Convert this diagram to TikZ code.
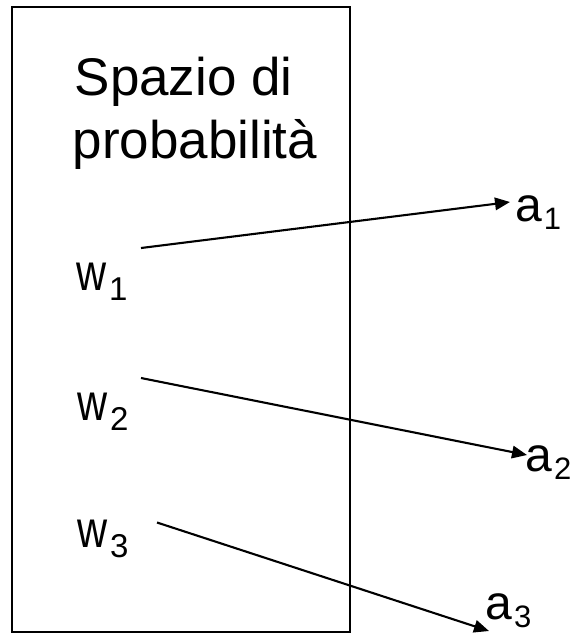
\documentclass[tikz,border=0pt]{standalone}
\usepackage{fontspec}
\setmainfont{Liberation Sans}
\usetikzlibrary{arrows.meta}
\tikzset{
  frame/.style={line width=2.1pt},
  map/.style={line width=2.1pt,-{Triangle[length=15pt,width=12.5pt]}},
  title/.style={anchor=base west,inner sep=0pt,font=\fontsize{53}{63}\selectfont},
  outcome/.style={anchor=base west,inner sep=0pt,font=\fontsize{52}{60}\selectfont},
  value/.style={anchor=base west,inner sep=0pt,font=\fontsize{48}{58}\selectfont},
}
\newcommand{\wsub}[1]{\scalebox{0.8}[1]{w}\kern3pt\raisebox{-10.5pt}{\fontsize{33}{33}\selectfont #1}}
\newcommand{\asub}[1]{a\kern2pt\raisebox{-8pt}{\fontsize{31}{31}\selectfont #1}}

\begin{document}
\begin{tikzpicture}[x=1pt,y=-1pt]
    \clip (0,0) rectangle (576,633);
    % ---------------- sample space ----------------
    \draw[frame] (12.3,7.3) rectangle (350.3,631.7);
    \node[title] (title1) at (74.5,95) {Spazio di};
    \node[title] (title2) at (72.5,158) {probabilità};
    % outcomes
    \node[outcome] (w1) at (76,290) {\wsub{1}};
    \node[outcome] (w2) at (77,420) {\wsub{2}};
    \node[outcome] (w3) at (77,547) {\wsub{3}};
    % values
    \node[value] (a1) at (515,221) {\asub{1}};
    \node[value] (a2) at (525.3,471) {\asub{2}};
    \node[value] (a3) at (485.3,619.5) {\asub{3}};
    % arrow ends
    \coordinate (w1e) at (141,248);
    \coordinate (w2e) at (141,378);
    \coordinate (w3e) at (157,522.5);
    \coordinate (a1w) at (510,202);
    \coordinate (a2w) at (527,455);
    \coordinate (a3w) at (489,631);
    % the map
    \draw[map] (w1e) -- (a1w);
    \draw[map] (w2e) -- (a2w);
    \draw[map] (w3e) -- (a3w);
  \end{tikzpicture}
\end{document}
